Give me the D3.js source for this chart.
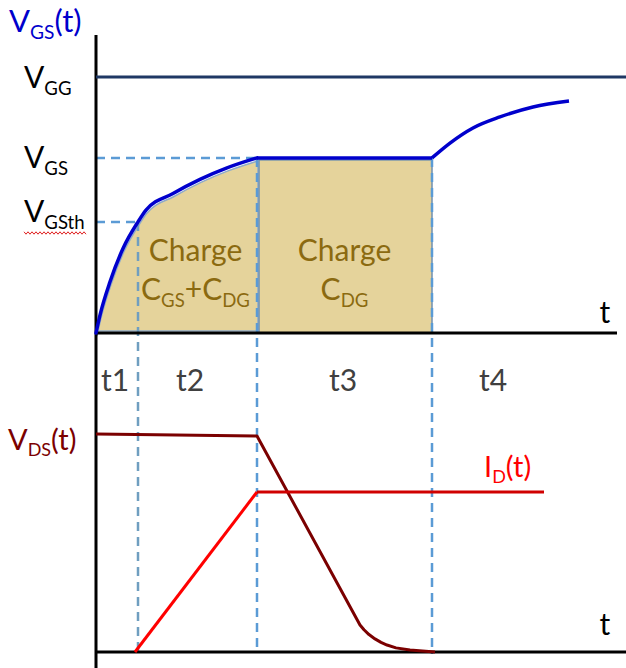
<!DOCTYPE html>
<html><head><meta charset="utf-8">
<script src="https://cdn.jsdelivr.net/npm/d3@7"></script>
<style>
html,body{margin:0;padding:0;background:#fff;}
svg{display:block;font-family:Lato,"Open Sans",sans-serif;}
</style></head>
<body><svg id="c" width="626" height="668"></svg>
<script>
// ---- data (time in arbitrary units, voltages/currents in arbitrary units) ----
const phaseEnds = [42, 161, 336];               // end of t1, t2, t3
const phaseLabels = ["t1", "t2", "t3", "t4"];
const phaseLabelTimes = [19, 94, 247, 397];
const vGG = 10, vGSplateau = 6.84, vGSth = 4.34;
const vgsRiseT = [0, 4, 14, 27, 42, 50, 77, 104, 131, 156, 161];
const vgsRiseV = [0, 0.7, 2.0, 3.3, 4.34, 4.8, 5.45, 6.0, 6.45, 6.78, 6.84];
const vgsTailT = [336, 354, 377, 404, 437, 473];
const vgsTailV = [6.84, 7.42, 8.01, 8.44, 8.83, 9.06];
const vdsT = [0, 161, 264, 268, 273, 279, 285, 291, 300, 314, 339];
const vdsV = [10, 9.91, 1.24, 1.02, 0.8, 0.6, 0.44, 0.32, 0.19, 0.09, 0];
const idRampT = [39, 161];
const idRampV = [0, 7.34];
const idFlatT = [161, 448];
const idFlatV = [7.34, 7.34];
const topAxisEnd = 521, botAxisEnd = 530;

const svg = d3.select("#c");
const x = d3.scaleLinear().domain([0, 530]).range([96, 626]);
const yTop = d3.scaleLinear().domain([0, 10]).range([333, 77]);
const yBot = d3.scaleLinear().domain([0, 10]).range([652, 434]);

const line = (ys) => d3.line().x(d => x(d[0])).y(d => ys(d[1]));
const zip = (a, b) => a.map((v, i) => [v, b[i]]);
const rise = zip(vgsRiseT, vgsRiseV);

const fill = "#E5D39B", border = "#8EAAC8", dash = "#5B9BD5";

// shaded regions
svg.append("path").datum(rise)
  .attr("d", d3.area().x(d => x(d[0]) + 1).y0(yTop(0) - 2).y1(d => yTop(d[1]) + 3).curve(d3.curveMonotoneX))
  .attr("fill", fill).attr("stroke", border).attr("stroke-width", 1.5);
svg.append("rect")
  .attr("x", x(phaseEnds[1]) + 2).attr("y", yTop(vGSplateau) + 2)
  .attr("width", x(phaseEnds[2]) - x(phaseEnds[1]) - 2)
  .attr("height", yTop(0) - yTop(vGSplateau) - 2)
  .attr("fill", fill).attr("stroke", "#6E8FAF").attr("stroke-width", 1.5);

// dashed guides
const g = svg.append("g").attr("stroke", dash).attr("stroke-width", 2.5).attr("stroke-dasharray", "9,6").attr("fill", "none");
g.append("line").attr("x1", x(0)).attr("x2", x(phaseEnds[1])).attr("y1", yTop(vGSplateau)).attr("y2", yTop(vGSplateau));
g.append("line").attr("x1", x(0)).attr("x2", x(phaseEnds[0])).attr("y1", yTop(vGSth)).attr("y2", yTop(vGSth));
g.append("line").attr("x1", x(phaseEnds[0])).attr("x2", x(phaseEnds[0])).attr("y1", yTop(vGSth)).attr("y2", yBot(0)).attr("stroke", "#6F9EC0");
g.append("line").attr("x1", x(phaseEnds[1])).attr("x2", x(phaseEnds[1])).attr("y1", yTop(vGSplateau)).attr("y2", yBot(0));
g.append("line").attr("x1", x(phaseEnds[2])).attr("x2", x(phaseEnds[2])).attr("y1", yTop(vGSplateau)).attr("y2", yBot(0) + 2);

// axes
const ax = svg.append("g").attr("stroke", "#000").attr("stroke-width", 3);
ax.append("line").attr("x1", x(0)).attr("x2", x(0)).attr("y1", 35).attr("y2", 668);
ax.append("line").attr("x1", x(0)).attr("x2", x(topAxisEnd)).attr("y1", yTop(0)).attr("y2", yTop(0));
ax.append("line").attr("x1", x(0)).attr("x2", x(botAxisEnd)).attr("y1", yBot(0)).attr("y2", yBot(0));

// VGG line
svg.append("line").attr("x1", x(0)).attr("x2", x(530)).attr("y1", yTop(vGG)).attr("y2", yTop(vGG))
  .attr("stroke", "#1F3864").attr("stroke-width", 3);

// VGS curve: rise, plateau, tail
const blue = "#0000CC";
svg.append("path").datum(rise).attr("d", line(yTop).curve(d3.curveMonotoneX))
  .attr("fill", "none").attr("stroke", blue).attr("stroke-width", 3.5).attr("stroke-linecap", "round");
svg.append("path").datum([[phaseEnds[1], vGSplateau], [phaseEnds[2], vGSplateau]]).attr("d", line(yTop))
  .attr("fill", "none").attr("stroke", blue).attr("stroke-width", 3.5);
svg.append("path").datum(zip(vgsTailT, vgsTailV)).attr("d", line(yTop).curve(d3.curveMonotoneX))
  .attr("fill", "none").attr("stroke", blue).attr("stroke-width", 3.5);

// VDS and ID
svg.append("path").datum(zip(vdsT, vdsV)).attr("d", line(yBot))
  .attr("fill", "none").attr("stroke", "#7B0000").attr("stroke-width", 3).attr("stroke-linejoin", "round");
svg.append("path").datum(zip(idRampT, idRampV)).attr("d", line(yBot))
  .attr("fill", "none").attr("stroke", "#FF0000").attr("stroke-width", 3);
svg.append("path").datum(zip(idFlatT, idFlatV)).attr("d", line(yBot))
  .attr("fill", "none").attr("stroke", "#D00000").attr("stroke-width", 3);

// text helpers
function label(xp, yp, parts, color, size, anchor) {
  const t = svg.append("text").attr("x", xp).attr("y", yp).attr("fill", color)
    .attr("font-size", size).attr("text-anchor", anchor || "start");
  parts.forEach(p => {
    const s = t.append("tspan").text(p[0]);
    if (p[1] === "sub") s.attr("font-size", size * 0.62).attr("dy", size * 0.22);
    else if (p[1] === "up") s.attr("dy", -size * 0.22);
  });
  return t;
}
label(9, 32, [["V"], ["GS", "sub"], ["(t)", "up"]], blue, 31);
label(24, 88, [["V"], ["GG", "sub"]], "#000", 30);
label(24, 168, [["V"], ["GS", "sub"]], "#000", 30);
label(24, 222, [["V"], ["GSth", "sub"]], "#000", 30);
// spell-check squiggle under VGSth
const sq = d3.range(0, 32).map(i => [24 + i * 2, 233 + (i % 2 ? 1.2 : -1.2)]);
svg.append("path").attr("d", d3.line()(sq)).attr("fill", "none").attr("stroke", "#E02020").attr("stroke-width", 1);

const tan = "#8B6A10";
label(x((phaseEnds[0] + phaseEnds[1]) / 2) - 2, 261, [["Charge"]], tan, 30, "middle");
label(x((phaseEnds[0] + phaseEnds[1]) / 2) - 2, 300, [["C"], ["GS", "sub"], ["+C", "up"], ["DG", "sub"]], tan, 30, "middle");
label(x((phaseEnds[1] + phaseEnds[2]) / 2), 261, [["Charge"]], tan, 30, "middle");
label(x((phaseEnds[1] + phaseEnds[2]) / 2), 300, [["C"], ["DG", "sub"]], tan, 30, "middle");

label(605, 323, [["t"]], "#000", 30, "middle");
label(605, 635, [["t"]], "#000", 30, "middle");

phaseLabels.forEach((s, i) => label(x(phaseLabelTimes[i]), 391, [[s]], "#404040", 30, "middle"));

label(8, 450, [["V"], ["DS", "sub"], ["(t)", "up"]], "#7B0000", 29);
label(484, 477, [["I"], ["D", "sub"], ["(t)", "up"]], "#FF0000", 29);
</script></body></html>
